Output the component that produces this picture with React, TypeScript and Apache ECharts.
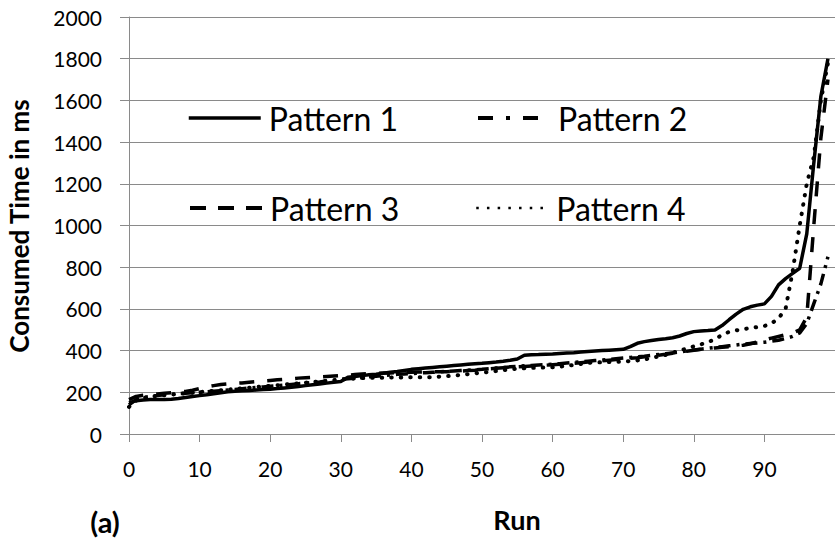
import React, { useEffect, useRef } from 'react';
import * as echarts from 'echarts';

// Run index 0..99
const runs: number[] = [...Array(100).keys()];

const pattern1: number[] = [
  150, 160, 163, 165, 165, 166, 167, 170, 175, 180,
  184, 188, 193, 198, 203, 205, 207, 209, 211, 213,
  215, 218, 221, 224, 228, 232, 236, 240, 244, 248,
  252, 272, 276, 280, 284, 287, 291, 296, 300, 305,
  310, 313, 316, 319, 322, 325, 328, 331, 334, 337,
  339, 342, 345, 349, 354, 360, 378, 380, 381, 383,
  384, 386, 388, 390, 393, 396, 398, 400, 402, 404,
  406, 419, 435, 443, 448, 453, 457, 462, 470, 482,
  491, 494, 496, 499, 520, 548, 575, 598, 610, 618,
  624, 660, 715, 745, 770, 795, 960, 1300, 1620, 1800,
];

const pattern2: number[] = [
  140, 165, 175, 180, 185, 188, 190, 193, 196, 198,
  200, 202, 205, 208, 211, 214, 217, 220, 223, 226,
  229, 232, 235, 238, 241, 244, 247, 250, 254, 258,
  262, 265, 268, 271, 274, 277, 280, 283, 286, 288,
  290, 292, 294, 296, 298, 300, 302, 304, 306, 308,
  310, 313, 316, 319, 322, 325, 327, 329, 331, 333,
  335, 337, 340, 343, 346, 349, 352, 355, 358, 361,
  364, 367, 370, 373, 377, 381, 385, 389, 393, 398,
  403, 407, 411, 415, 419, 423, 427, 431, 434, 437,
  440, 445, 450, 458, 468, 485, 530, 625, 720, 850,
];

const pattern3: number[] = [
  165, 180, 186, 190, 192, 195, 198, 201, 204, 210,
  218, 226, 232, 237, 240, 243, 245, 248, 251, 254,
  257, 260, 262, 265, 268, 270, 272, 274, 276, 278,
  280, 282, 285, 288, 290, 291, 292, 293, 294, 295,
  296, 297, 298, 298, 299, 299, 300, 302, 304, 306,
  309, 312, 315, 318, 320, 322, 324, 326, 328, 330,
  332, 334, 336, 339, 342, 345, 348, 351, 354, 357,
  360, 363, 366, 370, 374, 378, 382, 387, 392, 397,
  402, 406, 410, 413, 416, 419, 422, 426, 433, 442,
  451, 460, 468, 476, 484, 500, 560, 1000, 1420, 1700,
];

const pattern4: number[] = [
  130, 160, 172, 178, 183, 186, 189, 192, 195, 198,
  201, 204, 207, 210, 213, 216, 219, 222, 225, 228,
  231, 234, 237, 240, 243, 246, 249, 252, 255, 258,
  261, 264, 266, 268, 269, 270, 270, 271, 271, 272,
  272, 272, 272, 273, 275, 277, 280, 283, 287, 291,
  294, 298, 302, 306, 310, 313, 315, 317, 318, 319,
  320, 323, 327, 331, 336, 341, 343, 344, 345, 346,
  347, 350, 353, 357, 365, 372, 379, 390, 400, 410,
  420, 430, 440, 455, 475, 490, 497, 503, 508, 513,
  518, 530, 555, 600, 780, 1000, 1200, 1330, 1600, 1780,
];

const seriesNames: string[] = ['Pattern 1', 'Pattern 2', 'Pattern 3', 'Pattern 4'];
const xTicks = { min: 0, max: 100, interval: 10 };
const yTicks = { min: 0, max: 2000, interval: 200 };

const FONT = 'Lato, "Open Sans", "Noto Sans", sans-serif';
const GRID_COLOR = '#8a8a8a';

export default function App() {
  const ref = useRef<HTMLDivElement>(null);

  useEffect(() => {
    document.body.style.margin = '0';
    if (!ref.current) return;
    const chart = echarts.init(ref.current, undefined, { renderer: 'svg' });

    const toPairs = (vals: number[]) => runs.map((r, i) => [r, vals[i]]);

    const legendBase = {
      orient: 'horizontal',
      itemWidth: 72,
      itemHeight: 34,
      padding: 0,
      selectedMode: false,
      itemStyle: { opacity: 0, borderWidth: 0 },
      textStyle: {
        fontFamily: FONT,
        fontSize: 32,
        color: '#000',
        lineHeight: 34,
        padding: [0, 0, 0, 3],
      },
    };

    const option: any = {
      animation: false,
      backgroundColor: '#fff',
      grid: { left: 129, top: 17, right: -6, bottom: 107, containLabel: false },
      xAxis: {
        type: 'value',
        min: xTicks.min,
        max: xTicks.max,
        interval: xTicks.interval,
        axisLine: { show: true, lineStyle: { color: GRID_COLOR, width: 1 } },
        axisTick: { show: true, inside: false, length: 8, lineStyle: { color: GRID_COLOR, width: 1 } },
        axisLabel: {
          fontFamily: FONT,
          fontSize: 21,
          color: '#000',
          margin: 24,
          showMaxLabel: false,
          formatter: (v: number) => String(v),
        },
        splitLine: { show: false },
      },
      yAxis: {
        type: 'value',
        min: yTicks.min,
        max: yTicks.max,
        interval: yTicks.interval,
        axisLine: { show: true, lineStyle: { color: GRID_COLOR, width: 1 } },
        axisTick: { show: true, inside: false, length: 9, lineStyle: { color: GRID_COLOR, width: 1 } },
        axisLabel: {
          fontFamily: FONT,
          fontSize: 21,
          color: '#000',
          margin: 27,
          formatter: (v: number) => String(v),
        },
        splitLine: { show: true, lineStyle: { color: GRID_COLOR, width: 1 } },
      },
      legend: [
        {
          ...legendBase,
          left: 187,
          top: 101,
          data: [{ name: seriesNames[0], lineStyle: { type: 'solid', width: 3.5 } }],
        },
        {
          ...legendBase,
          left: 476,
          top: 101,
          data: [{ name: seriesNames[1], lineStyle: { type: [15, 13, 4, 13, 15, 40], width: 4, cap: 'butt' } }],
        },
        {
          ...legendBase,
          left: 188,
          top: 191,
          data: [{ name: seriesNames[2], lineStyle: { type: [16, 12], width: 4, cap: 'butt' } }],
        },
        {
          ...legendBase,
          left: 475,
          top: 191,
          data: [{ name: seriesNames[3], lineStyle: { type: [2.5, 8.2], width: 2.5, cap: 'butt' } }],
        },
      ],
      series: [
        {
          type: 'line',
          name: seriesNames[3],
          data: toPairs(pattern4),
          symbol: 'none',
          itemStyle: { color: '#000' },
          lineStyle: { color: '#000', width: 4, type: [0.5, 9], cap: 'round' },
          z: 2,
        },
        {
          type: 'line',
          name: seriesNames[2],
          data: toPairs(pattern3),
          symbol: 'none',
          itemStyle: { color: '#000' },
          lineStyle: { color: '#000', width: 3.5, type: [15, 13], cap: 'butt' },
          z: 3,
        },
        {
          type: 'line',
          name: seriesNames[1],
          data: toPairs(pattern2),
          symbol: 'none',
          itemStyle: { color: '#000' },
          lineStyle: { color: '#000', width: 3.5, type: [12, 6, 3, 6], cap: 'butt' },
          z: 4,
        },
        {
          type: 'line',
          name: seriesNames[0],
          data: toPairs(pattern1),
          symbol: 'none',
          itemStyle: { color: '#000' },
          lineStyle: { color: '#000', width: 3.5, type: 'solid' },
          z: 5,
        },
      ],
      graphic: [
        {
          type: 'text',
          x: 19,
          y: 226,
          rotation: Math.PI / 2,
          style: {
            text: 'Consumed Time in ms',
            fontFamily: FONT,
            fontWeight: 'bold',
            fontSize: 26,
            fill: '#000',
            align: 'center',
            verticalAlign: 'middle',
          },
        },
        {
          type: 'text',
          x: 105,
          y: 521,
          style: {
            text: '(a)',
            fontFamily: FONT,
            fontWeight: 'bold',
            fontSize: 29,
            fill: '#000',
            align: 'center',
            verticalAlign: 'middle',
          },
        },
        {
          type: 'text',
          x: 517,
          y: 519,
          style: {
            text: 'Run',
            fontFamily: FONT,
            fontWeight: 'bold',
            fontSize: 27,
            fill: '#000',
            align: 'center',
            verticalAlign: 'middle',
          },
        },
      ],
    };

    chart.setOption(option);
    return () => {
      chart.dispose();
    };
  }, []);

  return <div ref={ref} style={{ width: 835, height: 541 }} />;
}
